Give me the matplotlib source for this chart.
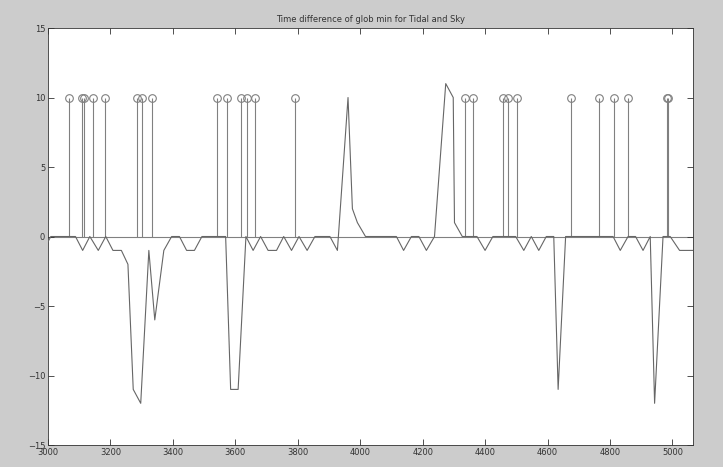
import numpy as np
import matplotlib
matplotlib.use("Agg")
import matplotlib.pyplot as plt

# line: time difference (vertices)
line_x = [2985, 3009, 3088, 3111, 3134, 3161, 3185, 3208, 3235, 3256, 3273, 3297,
          3323, 3342, 3371, 3396, 3421, 3444, 3469, 3493, 3569, 3585, 3609, 3634,
          3657, 3681, 3705, 3732, 3755, 3780, 3804, 3830, 3855, 3903, 3927, 3961,
          3975, 3991, 4017, 4116, 4139, 4164, 4188, 4212, 4238, 4274, 4298, 4302,
          4327, 4374, 4400, 4425, 4498, 4524, 4548, 4572, 4596, 4620, 4634, 4658,
          4810, 4833, 4858, 4882, 4906, 4929, 4943, 4970, 4993, 5023, 5070]
line_y = [-1, 0, 0, -1, 0, -1, 0, -1, -1, -2, -11, -12,
          -1, -6, -1, 0, 0, -1, -1, 0, 0, -11, -11, 0,
          -1, 0, -1, -1, 0, -1, 0, -1, 0, 0, -1, 10,
          2, 1, 0, 0, -1, 0, 0, -1, 0, 11, 10, 1,
          0, 0, -1, 0, 0, -1, 0, -1, 0, 0, -11, 0,
          0, -1, 0, 0, -1, 0, -12, 0, 0, -1, -1]

# stems at 10
stem_x = [3068, 3109, 3114, 3145, 3184, 3284, 3302, 3332, 3542, 3573, 3619, 3637,
          3663, 3792, 4335, 4361, 4457, 4475, 4502, 4674, 4766, 4813, 4858, 4982, 4986]
stem_val = 10

xticks = np.arange(3000, 5001, 200)
yticks = np.arange(-15, 16, 5)

fig = plt.figure(figsize=(7.23, 4.67), dpi=100, facecolor='#cccccc')
ax = fig.add_axes([0.0664, 0.0471, 0.8921, 0.8929])
ax.set_facecolor('white')

ax.axhline(0, color='#808080', lw=0.8, zorder=1)
ax.vlines(stem_x, 0, stem_val, color='#808080', lw=0.8, zorder=2)
ax.plot(stem_x, [stem_val] * len(stem_x), 'o', ms=5.5, mfc='none', mec='#808080',
        mew=0.8, zorder=3)
ax.plot(line_x, line_y, color='#666666', lw=0.8, zorder=4)

ax.set_xlim(3000, 5066)
ax.set_ylim(-15, 15)
ax.set_xticks(xticks)
ax.set_yticks(yticks)
ax.tick_params(direction='in', length=4.5, width=0.6, labelsize=6, pad=2,
               top=True, right=True, colors='#333333')
for s in ax.spines.values():
    s.set_linewidth(0.6)
    s.set_color('#333333')

ax.set_title("Time difference of glob min for Tidal and Sky", fontsize=6, pad=4,
             color='#333333')

plt.savefig("out.png", dpi=100, facecolor=fig.get_facecolor())
